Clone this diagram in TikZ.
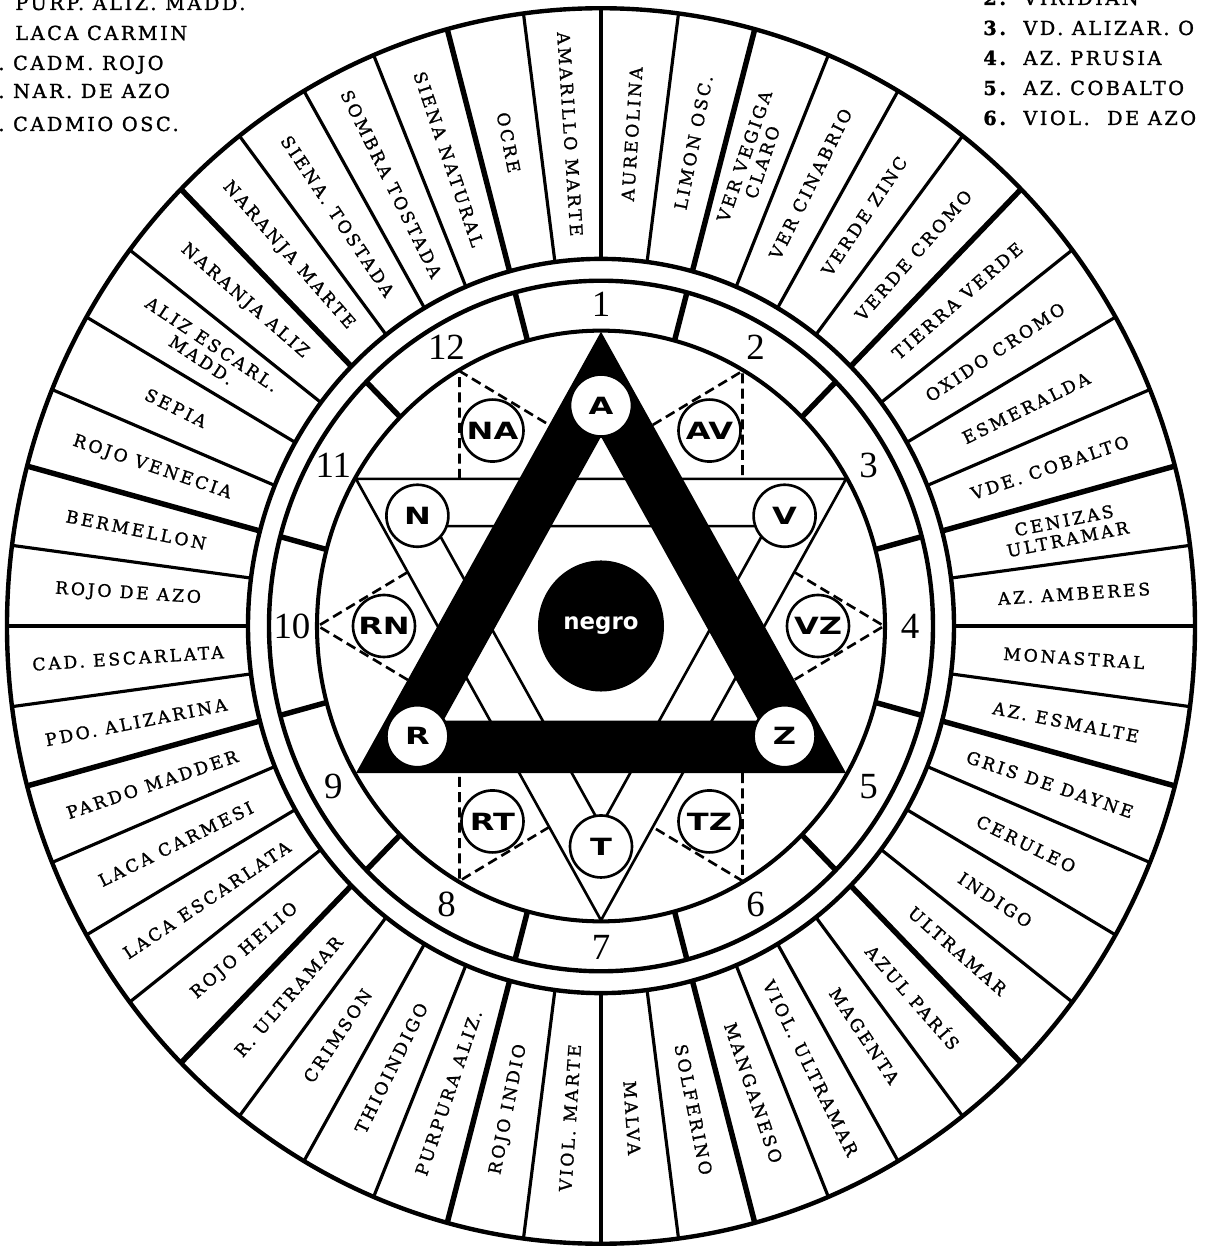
\documentclass[tikz,border=0pt]{standalone}
\usepackage{fontspec}
\setmainfont{DejaVu Serif}
\newfontfamily\numfont{Liberation Serif}
\newfontfamily\tagfont{DejaVu Sans}[FakeStretch=1.35]
\newfontfamily\blackfont{DejaVu Sans}
\usetikzlibrary{calc}

\newcommand\cellfont{\fontsize{9.8}{10.8}\selectfont\addfontfeature{LetterSpace=16,FakeBold=1.2}}
\newcommand\lstfont{\fontsize{11}{13}\selectfont\addfontfeature{LetterSpace=13,FakeBold=1.2}}

\begin{document}
\begin{tikzpicture}[
    x=0.02cm, y=0.02cm,
    ring_style/.style={line width=2.5pt},
    rule_style/.style={line width=1.8pt},
    bold_rule/.style={line width=3.1pt},
    star_style/.style={line width=1.5pt},
    dash_style/.style={line width=1.5pt, dash pattern=on 5.7pt off 3pt},
    cell_style/.style={font=\cellfont, align=center, inner sep=0pt},
    num_style/.style={font=\numfont\fontsize{21}{21}\selectfont, inner sep=0pt},
    tag_style/.style={
        circle,
        draw,
        fill=white,
        line width=1.5pt,
        minimum size=1.24cm,
        inner sep=0pt,
        font=\tagfont\bfseries\fontsize{13.5}{14}\selectfont
    },
    lst_style/.style={font=\lstfont, anchor=base west, inner sep=0pt}
]

\path[use as bounding box, fill=white] (-601,-621) rectangle (606,626);

\begin{scope}[yscale=1.04]

% rings
\draw[ring_style] (0,0) circle[radius=594];
\draw[ring_style] (0,0) circle[radius=353];
\draw[ring_style] (0,0) circle[radius=332];
\draw[line width=2.3pt] (0,0) circle[radius=284];

% 48 cells, every fourth divider heavier
\foreach \k in {0,...,47}{
    \pgfmathsetmacro\ang{105-7.5*\k}
    \pgfmathtruncatemacro\grp{mod(\k,4)}
    \ifnum\grp=0
        \draw[bold_rule] (\ang:353) -- (\ang:594);
    \else
        \draw[rule_style] (\ang:353) -- (\ang:594);
    \fi
}

\foreach \lbl [count=\k from 0] in {OCRE,AMARILLO MARTE,AUREOLINA,LIMON OSC.,
    {VER VEGIGA\\CLARO},VER CINABRIO,VERDE ZINC,VERDE CROMO,
    TIERRA VERDE,OXIDO CROMO,ESMERALDA,VDE. COBALTO,
    {CENIZAS\\ULTRAMAR},AZ. AMBERES,MONASTRAL,AZ. ESMALTE,
    GRIS DE DAYNE,CERULEO,INDIGO,ULTRAMAR,
    AZUL PARÍS,MAGENTA,VIOL. ULTRAMAR,MANGANESO,
    SOLFERINO,MALVA,VIOL. MARTE,ROJO INDIO,
    PURPURA ALIZ.,THIOINDIGO,CRIMSON,R. ULTRAMAR,
    ROJO HELIO,LACA ESCARLATA,LACA CARMESI,PARDO MADDER,
    PDO. ALIZARINA,CAD. ESCARLATA,ROJO DE AZO,BERMELLON,
    ROJO VENECIA,SEPIA,{ALIZ ESCARL.\\MADD.},NARANJA ALIZ,
    NARANJA MARTE,SIENA. TOSTADA,SOMBRA TOSTADA,SIENA NATURAL}{
    \pgfmathsetmacro\ang{101.25-7.5*\k}
    \pgfmathsetmacro\rot{cos(\ang)>0 ? \ang : \ang+180}
    \node[cell_style, rotate=\rot] (cell\k) at (\ang:474) {\lbl};
}

% number ring
\foreach \m in {0,...,11}
    \draw[bold_rule] ({105-30*\m}:284) -- ({105-30*\m}:332);
\foreach \n in {1,...,12}
    \node[num_style] (num\n) at ({120-30*\n}:309) {\n};

% inverted triangle, double outline
\draw[star_style] (150:283) -- (30:283) -- (270:283) -- cycle;
\draw[star_style] (150:192) -- (30:192) -- (270:192) -- cycle;

% dashed guides from the six notches
\foreach \t in {0,60,...,300}{
    \coordinate (p\t) at (\t:283);
    \draw[dash_style] ($(p\t)+(\t+150:103.6)$) -- (p\t) -- ($(p\t)+(\t-150:103.6)$);
}

% black triangle band
\fill[even odd rule] (90:283) -- (210:283) -- (330:283) -- cycle
    (90:182) -- (210:182) -- (330:182) -- cycle;

\fill (0,0) circle[radius=63];
\node[text=white, font=\blackfont\bfseries\fontsize{13}{14}\selectfont] (negro) at (0,0) {negro};

\foreach \t/\tag in {90/A, 30/V, -30/Z, -90/T, 210/R, 150/N}
    \node[tag_style] (\tag) at (\t:212) {\tag};
\foreach \t/\tag in {60/AV, 0/VZ, -60/TZ, -120/RT, 180/RN, 120/NA}
    \node[tag_style] (\tag) at (\t:217) {\tag};

\end{scope}

% lists at the top corners
\node[lst_style] (lst1) at (-586,616) {PURP. ALIZ. MADD.};
\node[lst_style] (lst2) at (-586,586) {LACA CARMIN};
\node[lst_style] (lst3) at (-603,556) {.\ CADM. ROJO};
\node[lst_style] (lst4) at (-603,528) {.\ NAR. DE AZO};
\node[lst_style] (lst5) at (-603,495) {.\ CADMIO OSC.};

\node[lst_style] (rlst2) at (382,621) {{\bfseries 2.}\ \ VIRIDIAN};
\node[lst_style] (rlst3) at (382,591) {{\bfseries 3.}\ \ VD. ALIZAR. O};
\node[lst_style] (rlst4) at (382,561) {{\bfseries 4.}\ \ AZ. PRUSIA};
\node[lst_style] (rlst5) at (382,531) {{\bfseries 5.}\ \ AZ. COBALTO};
\node[lst_style] (rlst6) at (382,501) {{\bfseries 6.}\ \ VIOL.\ \ DE AZO};

\end{tikzpicture}
\end{document}
